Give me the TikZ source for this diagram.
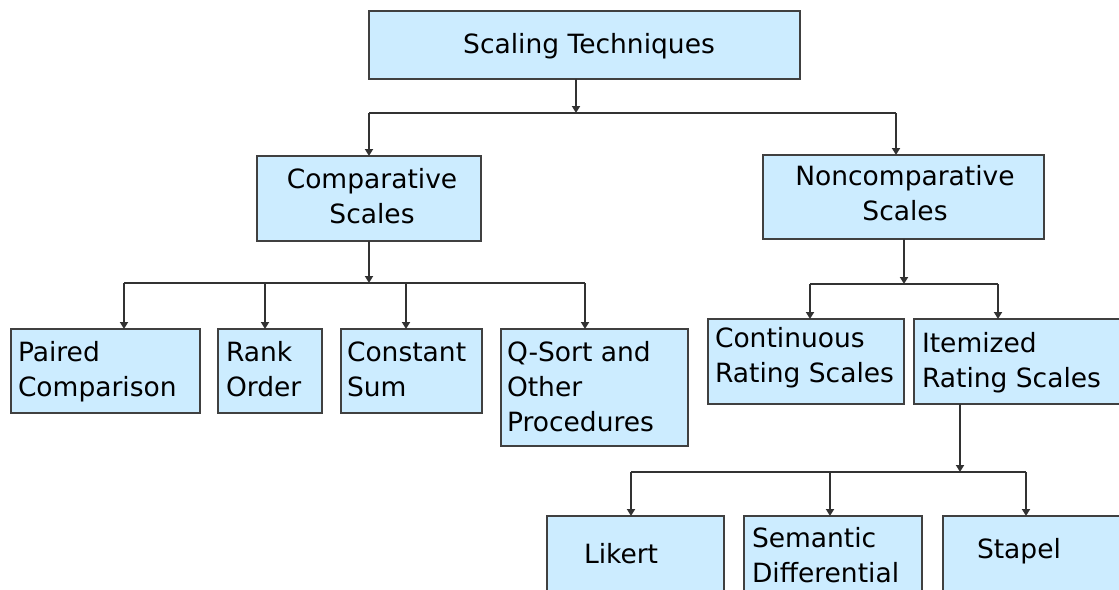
\documentclass[tikz,border=0pt]{standalone}
\usepackage{fontspec}
\setmainfont{DejaVu Sans}
\usetikzlibrary{arrows.meta,shadows}
\definecolor{boxblue}{RGB}{204,236,255}
\definecolor{edge}{RGB}{64,64,64}
\definecolor{wire}{RGB}{50,50,50}
\newcommand{\lft}[1]{\begin{tabular}[t]{@{}l@{}}#1\end{tabular}}
\newcommand{\ctr}[1]{\begin{tabular}[t]{@{}c@{}}#1\end{tabular}}
\begin{document}
\begin{tikzpicture}[x=1pt,y=-1pt,
  boxnode/.style={draw=edge, fill=boxblue, line width=1.5pt, anchor=north west,
    inner sep=0pt, outer sep=0pt,
    drop shadow={shadow xshift=1pt, shadow yshift=-1pt, fill=black!70, opacity=1}},
  label/.style={inner sep=0pt, outer sep=0pt, font=\fontsize{26.5}{35}\selectfont, text=black},
  lbl/.style={label, anchor=base west},
  lblc/.style={label, anchor=base},
  wireline/.style={draw=wire, line width=1.8pt},
  arr/.style={wireline, -{Triangle[width=8pt,length=7pt]}}]
\useasboundingbox (0,0) rectangle (1119,589);
\clip (0,0) rectangle (1119,589);

% boxes
\node[boxnode, minimum width=431pt, minimum height=68pt] (top) at (369,11) {};
\node[boxnode, minimum width=224pt, minimum height=85pt] (comp) at (257,156) {};
\node[boxnode, minimum width=281pt, minimum height=84pt] (noncomp) at (763,155) {};
\node[boxnode, minimum width=189pt, minimum height=84pt] (paired) at (11,329) {};
\node[boxnode, minimum width=104pt, minimum height=84pt] (rank) at (218,329) {};
\node[boxnode, minimum width=141pt, minimum height=84pt] (const) at (341,329) {};
\node[boxnode, minimum width=187pt, minimum height=117pt] (qsort) at (501,329) {};
\node[boxnode, minimum width=196pt, minimum height=85pt] (cont) at (708,319) {};
\node[boxnode, minimum width=220pt, minimum height=85pt] (item) at (914,319) {};
\node[boxnode, minimum width=177pt, minimum height=100pt] (likert) at (547,516) {};
\node[boxnode, minimum width=178pt, minimum height=100pt] (sem) at (744,516) {};
\node[boxnode, minimum width=190pt, minimum height=100pt] (stapel) at (943,516) {};

% texts
\node[lblc] (ttop) at (589,53) {Scaling Techniques};
\node[lblc] (tcomp) at (372,188) {\ctr{Comparative\\Scales}};
\node[lblc] (tnoncomp) at (905,185) {\ctr{Noncomparative\\Scales}};
\node[lbl] (tpaired) at (18,361) {\lft{Paired\\Comparison}};
\node[lbl] (trank) at (226,361) {\lft{Rank\\Order}};
\node[lbl] (tconst) at (347,361) {\lft{Constant\\Sum}};
\node[lbl] (tqsort) at (507,361) {\lft{Q-Sort and\\Other\\Procedures}};
\node[lbl] (tcont) at (715,347) {\lft{Continuous\\Rating Scales}};
\node[lbl] (titem) at (922,352) {\lft{Itemized\\Rating Scales}};
\node[lbl] (tlikert) at (584,563) {Likert};
\node[lbl] (tsem) at (752,547) {\lft{Semantic\\Differential}};
\node[lbl] (tstapel) at (977,558) {Stapel};

% junction points
\coordinate (j0) at (576,113);
\coordinate (j0l) at (369,113);
\coordinate (j0r) at (896,113);
\coordinate (j1) at (369,283);
\coordinate (j1a) at (124,283);
\coordinate (j1b) at (265,283);
\coordinate (j1c) at (406,283);
\coordinate (j1d) at (585,283);
\coordinate (j2) at (904,284);
\coordinate (j2a) at (810,284);
\coordinate (j2b) at (998,284);
\coordinate (j3) at (960,472);
\coordinate (j3a) at (631,472);
\coordinate (j3b) at (830,472);
\coordinate (j3c) at (1026,472);

% level 1
\draw[arr] (top.south -| j0) -- (j0);
\draw[wireline] (j0l) -- (j0r);
\draw[arr] (j0l) -- (comp.north -| j0l);
\draw[arr] (j0r) -- (noncomp.north -| j0r);

% comparative branch
\draw[arr] (comp.south -| j1) -- (j1);
\draw[wireline] (j1a) -- (j1d);
\draw[arr] (j1a) -- (paired.north -| j1a);
\draw[arr] (j1b) -- (rank.north -| j1b);
\draw[arr] (j1c) -- (const.north -| j1c);
\draw[arr] (j1d) -- (qsort.north -| j1d);

% noncomparative branch
\draw[arr] (noncomp.south -| j2) -- (j2);
\draw[wireline] (j2a) -- (j2b);
\draw[arr] (j2a) -- (cont.north -| j2a);
\draw[arr] (j2b) -- (item.north -| j2b);

% itemized branch
\draw[arr] (item.south -| j3) -- (j3);
\draw[wireline] (j3a) -- (j3c);
\draw[arr] (j3a) -- (likert.north -| j3a);
\draw[arr] (j3b) -- (sem.north -| j3b);
\draw[arr] (j3c) -- (stapel.north -| j3c);
\end{tikzpicture}
\end{document}
